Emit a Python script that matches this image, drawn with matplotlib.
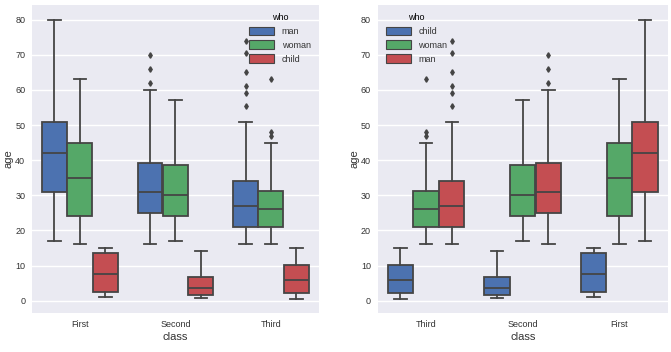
import matplotlib
matplotlib.use('Agg')
import matplotlib.pyplot as plt

# box stats: whislo, q1, med, q3, whishi
classes = ['First', 'Second', 'Third']
who = ['man', 'woman', 'child']
stats = {
    ('First', 'man'): [17, 31, 42, 51, 80],
    ('First', 'woman'): [16, 24, 35, 44.8, 63],
    ('First', 'child'): [0.92, 2.6, 7.5, 13.5, 15],
    ('Second', 'man'): [16, 25, 31, 39.2, 60],
    ('Second', 'woman'): [17, 24, 30, 38.7, 57],
    ('Second', 'child'): [0.67, 1.5, 3.5, 6.8, 14],
    ('Third', 'man'): [16, 21, 27, 34.2, 51],
    ('Third', 'woman'): [16, 21, 26, 31.3, 45],
    ('Third', 'child'): [0.42, 2.2, 6, 10.2, 15],
}
fliers = {
    ('Second', 'man'): [62, 66, 70],
    ('Third', 'man'): [55.5, 59, 61, 65, 70.5, 74],
    ('Third', 'woman'): [47, 48, 63],
}
yticks = [0, 10, 20, 30, 40, 50, 60, 70, 80]
colors = ['#4C72B0', '#55A868', '#C44E52']

plt.rcParams['font.family'] = ['Liberation Sans', 'DejaVu Sans']
gray = '#454545'
bg = '#EAEAF2'


def draw(ax, order, hue_order):
    w = 0.8 / len(hue_order)
    for i, c in enumerate(order):
        for j, h in enumerate(hue_order):
            s = stats[(c, h)]
            d = dict(whislo=s[0], q1=s[1], med=s[2], q3=s[3], whishi=s[4],
                     fliers=fliers.get((c, h), []))
            pos = i - 0.4 + w / 2 + j * w
            ax.bxp([d], positions=[pos], widths=[w * 0.98], patch_artist=True,
                   showfliers=True, manage_ticks=False,
                   boxprops=dict(facecolor=colors[j], edgecolor=gray, linewidth=1.3),
                   medianprops=dict(color=gray, linewidth=1.3),
                   whiskerprops=dict(color=gray, linewidth=1.3),
                   capprops=dict(color=gray, linewidth=1.3),
                   flierprops=dict(marker='d', markerfacecolor=gray, markeredgecolor=gray,
                                   markersize=2.8, linestyle='none'))
    ax.set_facecolor(bg)
    for sp in ax.spines.values():
        sp.set_visible(False)
    ax.grid(axis='y', color='white', linewidth=1)
    ax.set_axisbelow(True)
    ax.set_xlim(-0.5, len(order) - 0.5)
    ax.set_ylim(-3.5, 84.2)
    ax.set_xticks(range(len(order)))
    ax.set_xticklabels(order)
    ax.set_yticks(yticks)
    ax.tick_params(length=0, labelsize=6.5, colors='#333333')
    ax.tick_params(axis='y', pad=5)
    ax.tick_params(axis='x', pad=5)
    ax.set_xlabel('class', fontsize=8, color='#333333', labelpad=2)
    ax.set_ylabel('age', fontsize=8, color='#333333', labelpad=1)
    handles = [plt.Rectangle((0, 0), 1, 1, facecolor=colors[j],
                             edgecolor=gray, linewidth=0.8) for j in range(len(hue_order))]
    leg = ax.legend(handles, hue_order, title='who', frameon=False,
                    fontsize=6.5, title_fontsize=6.5, handlelength=2.8, handleheight=1.1,
                    labelspacing=0.5, borderaxespad=0.5)
    for t in leg.get_texts():
        t.set_color('#333333')
    return leg


fig = plt.figure(figsize=(6.71, 3.52), dpi=100)
ax1 = fig.add_axes([0.048, 0.111, 0.427, 0.875])
ax2 = fig.add_axes([0.563, 0.111, 0.432, 0.875])

leg1 = draw(ax1, classes, who)
leg1.set_loc('upper right')

leg2 = draw(ax2, classes[::-1], who[::-1])
leg2.set_loc('upper left')

fig.savefig('out.png', dpi=100)
